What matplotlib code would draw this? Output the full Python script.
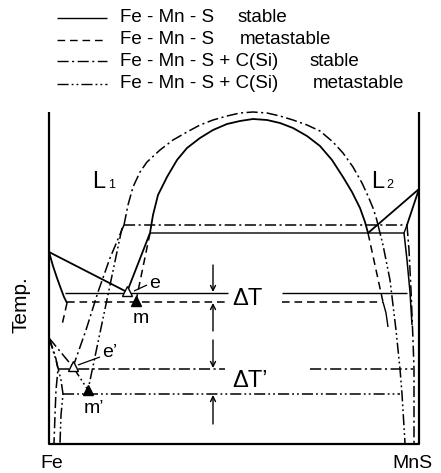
import matplotlib
matplotlib.use('Agg')
import matplotlib.pyplot as plt

plt.rcParams['font.family'] = ['Liberation Sans', 'DejaVu Sans']
plt.rcParams['lines.scale_dashes'] = False

# ---------------- data (schematic; x: Fe->MnS, y: temperature, screen units) -------------
frame_x = [49, 49, 419, 419]
frame_y = [112, 444, 444, 112]

# Fe-Mn-S stable (solid)
dome_st_x = [150, 153, 158, 167, 177, 187, 200, 213, 227, 240, 253, 267, 280, 293, 307, 320, 332, 343, 352, 360, 365, 368]
dome_st_y = [233, 215, 195, 177, 160, 148, 138, 130, 124, 121, 119, 120, 123, 128, 136, 146, 160, 177, 192, 208, 222, 233]
mis_st_x, mis_st_y = [150, 127], [233, 292]
liq_st_x, liq_st_y = [49, 127], [252, 292]
sol_st_x = [49, 53, 57, 61, 64, 67]
sol_st_y = [252, 266, 278, 289, 297, 303]
eut_st_y = 293
eut_st_xa, eut_st_xb = [65, 228], [282, 407]
mono_st_x, mono_st_y = [150, 404, 407], [233, 233, 225]
liq2_st_x, liq2_st_y = [368, 419, 407], [233, 189, 225]
solv_st_x, solv_st_y = [404, 407, 410, 412], [233, 260, 292, 325]

# Fe-Mn-S metastable (dashed)
mis_ms_lx, mis_ms_ly = [150, 136], [233, 301]
mis_ms_rx, mis_ms_ry = [368, 383], [233, 302]
eut_ms_y = 302
eut_ms_xa, eut_ms_xb = [67, 225], [282, 383]
solv_ms_x, solv_ms_y = [383, 386, 388], [302, 313, 327]
sol_ms_x, sol_ms_y = [67, 62], [303, 325]

# Fe-Mn-S + C(Si) stable (dash-dot)
dome_c_x = [124, 128, 133, 140, 147, 160, 173, 187, 200, 213, 227, 240, 253, 267, 280, 293, 307, 320, 333, 343, 353, 362, 368, 373, 376, 378]
dome_c_y = [225, 205, 187, 172, 162, 150, 140, 132, 125, 120, 116, 113, 112, 113, 116, 120, 125, 131, 142, 153, 167, 183, 196, 208, 217, 225]
mono_c_x, mono_c_y = [124, 407], [225, 225]
mis_c_x, mis_c_y = [124, 110, 98, 86, 73], [225, 258, 292, 330, 367]
liq_c_x, liq_c_y = [49, 73], [338, 367]
sol_c_x = [49, 53, 56, 58, 56, 55, 54]
sol_c_y = [338, 349, 359, 369, 390, 415, 443]
eut_c_y = 369
eut_c_xa, eut_c_xb = [58, 225], [310, 413]
solv_c_x = [407, 409, 411, 413, 414, 414]
solv_c_y = [225, 250, 290, 340, 369, 443]

# Fe-Mn-S + C(Si) metastable (dash-dot-dot)
mis_cm_lx, mis_cm_ly = [122, 88], [228, 390]
liq_cm_x, liq_cm_y = [73, 88], [367, 390]
eut_cm_y = 394
eut_cm_x = [63, 400]
sol_cm_x = [49, 56, 61, 63, 61, 60]
sol_cm_y = [338, 360, 380, 394, 415, 443]
mis_cm_rx = [378, 383, 390, 396, 400, 402, 405]
mis_cm_ry = [225, 245, 280, 330, 369, 394, 443]

# invariant points
pt_open_x, pt_open_y = [127, 73], [291, 366]        # e, e'
pt_fill_x, pt_fill_y = [136, 88], [301, 390]        # m, m'

# temperature-difference arrows (x, y_from, y_to)
arrows = [(213, 265, 292), (213, 331, 303), (213, 340, 368), (213, 424, 395)]

legend_labels_a = ['Fe - Mn - S', 'Fe - Mn - S', 'Fe - Mn - S + C(Si)', 'Fe - Mn - S + C(Si)']
legend_labels_b = ['stable', 'metastable', 'stable', 'metastable']

# ---------------- drawing ----------------
SOLID = '-'
DASH = (0, (5.5, 3.5))
DASHDOT = (0, (8, 2.5, 1.5, 2.5))
DASHDOTDOT = (0, (8, 2.2, 1.3, 2.2, 1.3, 2.2))
K = 'black'

fig = plt.figure(figsize=(4.41, 4.73), dpi=100)
ax = fig.add_axes([0, 0, 1, 1])
ax.set_xlim(0, 441)
ax.set_ylim(473, 0)
ax.axis('off')

def ln(x, y, ls, lw=1.1):
    ax.plot(x, y, color=K, linestyle=ls, linewidth=lw, solid_capstyle='butt', dash_capstyle='butt')

ln(frame_x, frame_y, SOLID, 1.6)

# stable
ln(dome_st_x, dome_st_y, SOLID, 1.3)
ln(mis_st_x, mis_st_y, SOLID, 1.3)
ln(liq_st_x, liq_st_y, SOLID, 1.3)
ln(sol_st_x, sol_st_y, SOLID, 1.3)
ln(eut_st_xa, [eut_st_y] * 2, SOLID, 1.0)
ln(eut_st_xb, [eut_st_y] * 2, SOLID, 1.0)
ln(mono_st_x, mono_st_y, SOLID, 1.0)
ln(liq2_st_x, liq2_st_y, SOLID, 1.3)
ln(solv_st_x, solv_st_y, SOLID, 1.1)

# metastable
ln(mis_ms_lx, mis_ms_ly, DASH)
ln(mis_ms_rx, mis_ms_ry, DASH)
ln(eut_ms_xa, [eut_ms_y] * 2, DASH)
ln(eut_ms_xb, [eut_ms_y] * 2, DASH)
ln(solv_ms_x, solv_ms_y, SOLID, 1.0)
ln(sol_ms_x, sol_ms_y, DASH)

# C(Si) stable
ln(dome_c_x, dome_c_y, DASHDOT)
ln(mono_c_x, mono_c_y, DASHDOT)
ln(mis_c_x, mis_c_y, DASHDOT)
ln(liq_c_x, liq_c_y, DASHDOT)
ln(sol_c_x, sol_c_y, DASHDOT)
ln(eut_c_xa, [eut_c_y] * 2, DASHDOT)
ln(eut_c_xb, [eut_c_y] * 2, DASHDOT)
ln(solv_c_x, solv_c_y, DASHDOT)

# C(Si) metastable
ln(mis_cm_lx, mis_cm_ly, DASHDOTDOT)
ln(liq_cm_x, liq_cm_y, DASHDOTDOT)
ln(eut_cm_x, [eut_cm_y] * 2, DASHDOTDOT)
ln(sol_cm_x, sol_cm_y, DASHDOTDOT)
ln(mis_cm_rx, mis_cm_ry, DASHDOTDOT)

ax.plot(pt_open_x, pt_open_y, linestyle='none', marker='^', markersize=6.5,
        markerfacecolor='white', markeredgecolor=K, markeredgewidth=1.0, zorder=5)
ax.plot(pt_fill_x, pt_fill_y, linestyle='none', marker='^', markersize=6.5,
        markerfacecolor=K, markeredgecolor=K, zorder=5)

for x, y0, y1 in arrows:
    ax.annotate('', xy=(x, y1), xytext=(x, y0),
                arrowprops=dict(arrowstyle='->', color=K, lw=1.0, mutation_scale=9,
                                shrinkA=0, shrinkB=0))

# leader lines for e and e'
ln([134, 147], [291, 285], SOLID, 0.9)
ln([78, 100], [365, 357], SOLID, 0.9)

# labels
ax.text(149, 283, 'e', fontsize=14, ha='left', va='center')
ax.text(133, 318, 'm', fontsize=14, ha='left', va='center')
ax.text(102, 352, 'e\u2019', fontsize=14, ha='left', va='center')
ax.text(84, 408, 'm\u2019', fontsize=14, ha='left', va='center')
ax.text(232, 299, '\u0394T', fontsize=17, ha='left', va='center')
ax.text(232, 381, '\u0394T\u2019', fontsize=17, ha='left', va='center')
ax.text(92, 188, 'L', fontsize=17, ha='left', va='baseline')
ax.text(108, 188, '1', fontsize=9, ha='left', va='baseline')
ax.text(371, 188, 'L', fontsize=17, ha='left', va='baseline')
ax.text(386, 188, '2', fontsize=9, ha='left', va='baseline')
ax.text(21, 305, 'Temp.', fontsize=15, rotation=90, ha='center', va='center')
ax.text(52, 468, 'Fe', fontsize=14, ha='center', va='baseline')
ax.text(412, 468, 'MnS', fontsize=14, ha='center', va='baseline')

# legend (drawn as a key block at the top)
row_y = [18, 40, 61, 84]
text_b_x = [238, 240, 310, 313]
styles = [SOLID, DASH, DASHDOT, DASHDOTDOT]
for ry, la, lb, bx, st in zip(row_y, legend_labels_a, legend_labels_b, text_b_x, styles):
    ln([57, 107], [ry, ry], st, 1.0)
    ax.text(120, ry, la, fontsize=13.5, ha='left', va='center')
    ax.text(bx, ry, lb, fontsize=13.5, ha='left', va='center')

fig.savefig('out.png', dpi=100)
